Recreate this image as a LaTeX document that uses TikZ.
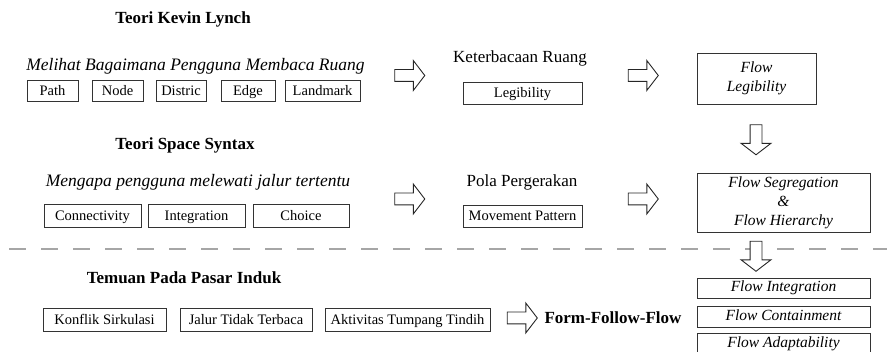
\documentclass[tikz,border=0pt]{standalone}
\usepackage{fontspec}
\setmainfont{Liberation Serif}
\usepackage{tikz}
\usetikzlibrary{positioning,shapes.arrows}

\begin{document}
\begin{tikzpicture}[
  x=1pt, y=-1pt,
  frame/.style={draw=black!80, line width=0.9pt, inner sep=0pt, align=center},
  box/.style={frame, text height=11.5pt, text depth=2pt, font=\fontsize{14.5}{16}\selectfont},
  flowbox/.style={frame, minimum width=173pt, text height=11pt, text depth=3.5pt, font=\fontsize{15.5}{19}\selectfont\itshape},
  head/.style={font=\fontsize{17}{19}\selectfont\bfseries},
  ask/.style={font=\fontsize{17.5}{19}\selectfont\itshape},
  plain/.style={font=\fontsize{17}{19}\selectfont},
  bigarr/.style={single arrow, draw=black!85, fill=white, line width=0.9pt, inner sep=5.5pt, single arrow head extend=9pt,
    single arrow tip angle=105, minimum height=30pt}
]
  \useasboundingbox (0,0) rectangle (887,352);
  % Kevin Lynch
  \node[head] (lynch) at (183,19) {Teori Kevin Lynch};
  \node[ask] (lynchq) at (195.5,66) {Melihat Bagaimana Pengguna Membaca Ruang};
  \node[box, minimum width=51pt, minimum height=21pt] (path) at (52.5,90.5) {Path};
  \node[box, minimum width=51pt, minimum height=21pt] (nodeb) at (117.5,90.5) {Node};
  \node[box, minimum width=50pt, minimum height=21pt] (distric) at (181,90.5) {Distric};
  \node[box, minimum width=54pt, minimum height=21pt] (edge) at (248,90.5) {Edge};
  \node[box, minimum width=75pt, minimum height=21pt] (landmark) at (322.5,90.5) {Landmark};
  \node[bigarr] (a1) at (407.5,75.5) {};
  \node[plain] (keter) at (520,58) {Keterbacaan Ruang};
  \node[box, minimum width=119pt, minimum height=22pt] (legib) at (522.5,93) {Legibility};
  \node[bigarr] (a2) at (641,75.5) {};
  \node[frame, minimum width=119pt, minimum height=51pt, font=\fontsize{15.5}{19}\selectfont\itshape] (flowleg) at (756.5,78.5) {Flow\\Legibility};
  \node[bigarr, shape border rotate=270] (d1) at (756,137.5) {};

  % Space Syntax
  \node[head] (syntax) at (185,145) {Teori Space Syntax};
  \node[ask] (syntaxq) at (198,182) {Mengapa pengguna melewati jalur tertentu};
  \node[box, minimum width=97pt, minimum height=23pt] (conn) at (92.5,215.5) {Connectivity};
  \node[box, minimum width=97pt, minimum height=23pt] (integ) at (196.5,215.5) {Integration};
  \node[box, minimum width=96pt, minimum height=23pt] (choice) at (301,215.5) {Choice};
  \node[bigarr] (a3) at (407.5,199) {};
  \node[plain] (pola) at (522,182) {Pola Pergerakan};
  \node[box, minimum width=119pt, minimum height=22pt] (movement) at (522.5,216) {Movement Pattern};
  \node[bigarr] (a4) at (641,199) {};
  \node[frame, minimum width=173pt, minimum height=59pt, font=\fontsize{15.5}{19}\selectfont\itshape] (flowseg) at (783.5,202.5) {Flow Segregation\\\&\\Flow Hierarchy};

  \draw[black!35, line width=1.8pt, dash pattern=on 17pt off 15pt, dash phase=-9pt] (0,249) -- (887,249);
  \node[bigarr, shape border rotate=270] (d2) at (756,254) {};

  % Temuan
  \node[head] (temuan) at (184,278) {Temuan Pada Pasar Induk};
  \node[box, minimum width=123pt, minimum height=23pt] (konflik) at (104.5,319.5) {Konflik Sirkulasi};
  \node[box, minimum width=132pt, minimum height=23pt] (jalur) at (246,319.5) {Jalur Tidak Terbaca};
  \node[box, minimum width=165pt, minimum height=23pt] (aktiv) at (407.5,319.5) {Aktivitas Tumpang Tindih};
  \node[bigarr] (a5) at (520,318) {};
  \node[head] (fff) at (613,318) {Form-Follow-Flow};
  \node[flowbox, minimum height=20pt] (fint) at (783.5,288) {Flow Integration};
  \node[flowbox, minimum height=21pt] (fcont) at (783.5,316.5) {Flow Containment};
  \node[flowbox, minimum height=22pt] (fadapt) at (783.5,344) {Flow Adaptability};
\end{tikzpicture}
\end{document}
